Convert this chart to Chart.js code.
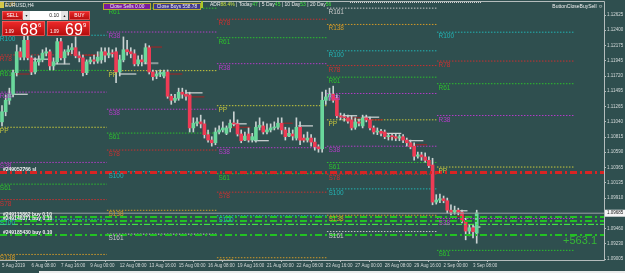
<!DOCTYPE html>
<html>
<head>
<meta charset="utf-8">
<script src="https://cdn.jsdelivr.net/npm/chart.js@4.4.1/dist/chart.umd.min.js"></script>
<style>
  html, body { margin: 0; padding: 0; background: #2f4f4f; }
  #wrap { position: relative; width: 625px; height: 273px; overflow: hidden; }
  #c { position: absolute; left: 0; top: 0; }
</style>
</head>
<body>
<div id="wrap"><canvas id="c" width="625" height="273"></canvas></div>
<script>
// EURUSD H4, 5 Aug 2019 .. 3 Sep 2019
const opens = [1.1104,1.1119,1.1136,1.1145,1.1177,1.1208,1.1200,1.1225,1.1199,1.1178,
  1.1193,1.1196,1.1206,1.1208,1.1187,1.1193,1.1223,1.1199,1.1208,1.1211,
  1.1214,1.1202,1.1199,1.1177,1.1193,1.1196,1.1194,1.1196,1.1208,1.1203,
  1.1206,1.1208,1.1178,1.1196,1.1211,1.1208,1.1205,1.1190,1.1196,1.1193,
  1.1214,1.1178,1.1172,1.1175,1.1172,1.1178,1.1142,1.1136,1.1139,1.1148,
  1.1145,1.1144,1.1095,1.1102,1.1104,1.1101,1.1085,1.1077,1.1073,1.1089,
  1.1092,1.1087,1.1095,1.1102,1.1101,1.1086,1.1077,1.1086,1.1077,1.1077,
  1.1096,1.1098,1.1089,1.1092,1.1095,1.1096,1.1102,1.1092,1.1083,1.1086,
  1.1080,1.1096,1.1080,1.1077,1.1080,1.1074,1.1067,1.1064,1.1136,1.1141,
  1.1145,1.1139,1.1113,1.1111,1.1110,1.1107,1.1096,1.1104,1.1098,1.1110,
  1.1107,1.1095,1.1089,1.1090,1.1089,1.1082,1.1083,1.1082,1.1080,1.1082,
  1.1077,1.1073,1.1068,1.1053,1.1055,1.1052,1.1047,1.1040,1.0985,1.0988,
  1.0990,1.0987,1.0973,1.0970,1.0973,1.0970,1.0957,1.0942,1.0947,1.0939];
const highs = [1.1128,1.1144,1.1154,1.1181,1.1218,1.1214,1.1233,1.1231,1.1202,1.1199,
  1.1202,1.1211,1.1214,1.1211,1.1199,1.1228,1.1228,1.1211,1.1217,1.1220,
  1.1230,1.1208,1.1203,1.1196,1.1200,1.1203,1.1208,1.1214,1.1214,1.1214,
  1.1211,1.1214,1.1203,1.1230,1.1225,1.1214,1.1211,1.1202,1.1203,1.1220,
  1.1217,1.1181,1.1180,1.1181,1.1181,1.1181,1.1145,1.1145,1.1154,1.1154,
  1.1151,1.1148,1.1110,1.1110,1.1114,1.1107,1.1092,1.1082,1.1095,1.1098,
  1.1104,1.1098,1.1107,1.1119,1.1107,1.1092,1.1089,1.1095,1.1087,1.1104,
  1.1110,1.1104,1.1101,1.1101,1.1104,1.1110,1.1110,1.1096,1.1095,1.1092,
  1.1110,1.1104,1.1085,1.1089,1.1085,1.1080,1.1070,1.1148,1.1151,1.1154,
  1.1157,1.1144,1.1117,1.1116,1.1114,1.1113,1.1110,1.1108,1.1114,1.1114,
  1.1111,1.1098,1.1095,1.1093,1.1092,1.1087,1.1086,1.1086,1.1085,1.1085,
  1.1080,1.1077,1.1073,1.1059,1.1059,1.1058,1.1052,1.1050,1.0996,1.0997,
  1.0994,1.0991,1.0981,1.0979,1.0976,1.0973,1.0961,1.0952,1.0951,1.0973];
const lows = [1.1098,1.1113,1.1130,1.1141,1.1172,1.1196,1.1196,1.1196,1.1174,1.1175,
  1.1188,1.1193,1.1202,1.1181,1.1181,1.1190,1.1196,1.1190,1.1203,1.1205,
  1.1199,1.1193,1.1172,1.1174,1.1190,1.1190,1.1191,1.1191,1.1193,1.1199,
  1.1200,1.1162,1.1172,1.1193,1.1203,1.1199,1.1187,1.1187,1.1187,1.1190,
  1.1175,1.1166,1.1168,1.1171,1.1169,1.1139,1.1130,1.1133,1.1136,1.1139,
  1.1136,1.1089,1.1089,1.1098,1.1095,1.1080,1.1074,1.1068,1.1070,1.1086,
  1.1089,1.1085,1.1089,1.1098,1.1083,1.1073,1.1076,1.1074,1.1074,1.1074,
  1.1092,1.1086,1.1086,1.1089,1.1092,1.1093,1.1086,1.1077,1.1082,1.1077,
  1.1077,1.1070,1.1074,1.1074,1.1068,1.1062,1.1059,1.1059,1.1130,1.1136,
  1.1133,1.1110,1.1107,1.1105,1.1102,1.1092,1.1093,1.1098,1.1095,1.1104,
  1.1092,1.1086,1.1085,1.1083,1.1079,1.1077,1.1077,1.1076,1.1076,1.1073,
  1.1068,1.1064,1.1047,1.1050,1.1047,1.1044,1.1036,1.0981,1.0982,1.0984,
  1.0984,1.0969,1.0966,1.0967,1.0966,1.0954,1.0929,1.0935,1.0932,1.0924];
const closes = [1.1119,1.1136,1.1145,1.1177,1.1208,1.1200,1.1225,1.1199,1.1178,1.1193,
  1.1196,1.1206,1.1208,1.1187,1.1193,1.1223,1.1199,1.1208,1.1211,1.1214,
  1.1202,1.1199,1.1177,1.1193,1.1196,1.1194,1.1200,1.1208,1.1203,1.1206,
  1.1205,1.1178,1.1196,1.1211,1.1208,1.1205,1.1190,1.1196,1.1193,1.1214,
  1.1178,1.1171,1.1175,1.1177,1.1178,1.1142,1.1136,1.1139,1.1148,1.1145,
  1.1142,1.1095,1.1102,1.1104,1.1101,1.1085,1.1077,1.1073,1.1089,1.1092,
  1.1095,1.1095,1.1102,1.1101,1.1086,1.1076,1.1083,1.1077,1.1082,1.1096,
  1.1099,1.1089,1.1092,1.1095,1.1096,1.1102,1.1092,1.1082,1.1087,1.1083,
  1.1096,1.1077,1.1077,1.1080,1.1074,1.1067,1.1064,1.1136,1.1141,1.1145,
  1.1136,1.1113,1.1111,1.1110,1.1105,1.1095,1.1104,1.1102,1.1110,1.1107,
  1.1095,1.1089,1.1090,1.1087,1.1082,1.1083,1.1082,1.1080,1.1082,1.1077,
  1.1073,1.1067,1.1053,1.1055,1.1052,1.1047,1.1039,1.0985,1.0988,1.0990,
  1.0987,1.0973,1.0970,1.0973,1.0970,1.0957,1.0942,1.0947,1.0941,1.0969];

// time axis: bar index of each label
const xTickBars = [0, 8, 16, 24, 32, 40, 48, 56, 64, 72, 80, 88, 96, 104, 112, 120, 128];
const xTickLabels = ["5 Aug 2019", "6 Aug 08:00", "7 Aug 16:00", "9 Aug 00:00", "12 Aug 08:00",
  "13 Aug 16:00", "15 Aug 00:00", "16 Aug 08:00", "19 Aug 16:00", "21 Aug 00:00", "22 Aug 08:00",
  "23 Aug 16:00", "27 Aug 00:00", "28 Aug 08:00", "29 Aug 16:00", "2 Sep 00:00", "3 Sep 08:00"];
const yTicks = [1.12625, 1.12400, 1.12175, 1.11945, 1.11720, 1.11495, 1.11265, 1.11040, 1.10815,
  1.10590, 1.10365, 1.10135, 1.09910, 1.09460, 1.09230, 1.09005];

// weekly fibonacci pivots
const levelNames = ["R161", "R138", "R100", "R78", "R61", "R38", "PP", "S38", "S61", "S78", "S100", "S138", "S161"];
const levelRatios = [1.618, 1.382, 1, 0.786, 0.618, 0.382, 0, -0.382, -0.618, -0.786, -1, -1.382, -1.618];
const weekStart = [-1, 28.5, 58.4, 88.3, 118.2];
const weekEnd = [28.5, 58.4, 88.3, 118.2, 155.7];
const weekPivot = [1.1096, 1.1180, 1.1128, 1.1107, 1.1037];
const weekRange = [0.01365, 0.01499, 0.01632, 0.01024, 0.0200];

// short daily marks [fromBar, toBar, price]
const whiteSegs = [[3,7,1.1145],[8,12.5,1.1197],[32,36.5,1.1175],[50,54.5,1.1147],[62.5,66.5,1.1101],
  [68.5,72.5,1.1076],[80.5,84.5,1.1098],[92.5,96.5,1.1113],[98,102.5,1.1111],[104.5,108.5,1.1087],
  [110.5,114.5,1.1076],[122.5,126.5,1.0972],[128,130,1.0948]];
const redSegs = [[3.5,7.5,1.1175],[15.5,19.5,1.1206],[22,26.5,1.1203],[39,43.5,1.1215],[44.5,49,1.1175],
  [51,55,1.1141],[62,67.5,1.1096],[76.5,79,1.1102],[81,84.5,1.1077],[94,98,1.1110],[99,103.5,1.1107],
  [104.5,109,1.1080],[111.5,115.5,1.1070],[123.5,127,1.0964]];
const graySegs = [[14,18.5,1.1190],[38.5,42.5,1.1191]];

// open orders
const orderNames = ["#249052766 sl", "#249115862 buy 0.10", "#249140371 buy 0.10", "#249185430 buy 0.10"];
const orderPrices = [1.1029, 1.0963, 1.0957, 1.0936];
const breakEven = 1.0952;
const bid = 1.09685;
const profitText = "+563.1";

const xMin = -0.543, xMax = 163.59;
const yMin = 1.08991, yMax = 1.12818;

const FONT = '"Liberation Sans", Arial, sans-serif';
const levelColors = ["#c8c8c8", "#d49a28", "#22b4b4", "#cc3030", "#2cc02c", "#b43cc8", "#c8c83c",
  "#b43cc8", "#2cc02c", "#cc3030", "#22b4b4", "#d49a28", "#c8c8c8"];

let datasets = [];

weekPivot.forEach((pp, w) => {
  levelRatios.forEach((r, k) => {
    const v = pp + r * weekRange[w];
    datasets.push({
      type: "line", order: 10,
      data: [{x: weekStart[w], y: v}, {x: weekEnd[w], y: v}],
      borderColor: levelColors[k], borderWidth: 1, borderDash: [1.5, 1.5],
      pointRadius: 0
    });
  });
});

function segs(list, color, width) {
  list.forEach(s => datasets.push({
    type: "line", order: 5,
    data: [{x: s[0], y: s[2]}, {x: s[1], y: s[2]}],
    borderColor: color, borderWidth: width, pointRadius: 0
  }));
}
segs(graySegs, "#8a9a9a", 2);
segs(redSegs, "#a82222", 1);
segs(whiteSegs, "#f4f4f4", 1);

datasets.push({
  type: "bar", order: 3, grouped: false, barThickness: 1,
  data: highs.map((h, i) => ({x: i, y: [lows[i], h]})),
  backgroundColor: "#c9d2d2"
});
datasets.push({
  type: "bar", order: 2, grouped: false, barThickness: 3, minBarLength: 1,
  data: opens.map((o, i) => ({x: i, y: [o, closes[i]]})),
  backgroundColor: opens.map((o, i) => closes[i] < o ? "#ee3b55" : "#6ad89c")
});

datasets.push({
  type: "line", order: 1,
  data: [{x: xMin, y: bid}, {x: xMax, y: bid}],
  borderColor: "#9aa4a4", borderWidth: 1, pointRadius: 0
});
orderPrices.forEach((p, i) => {
  const sl = i === 0;
  datasets.push({
    type: "line", order: 0,
    data: [{x: xMin, y: p}, {x: xMax, y: p}],
    borderColor: sl ? "#d82424" : "#22c222", borderWidth: sl ? 3 : 2,
    borderDash: [7, 3, 2, 3], pointRadius: 0
  });
});
datasets.push({
  type: "line", order: 0,
  data: [{x: xMin, y: breakEven}, {x: xMax, y: breakEven}],
  borderColor: "#44ff44", borderWidth: 1, borderDash: [6, 2, 2, 2], pointRadius: 0
});

function redBox(ctx, x, y, w, h) {
  const g = ctx.createLinearGradient(0, y, 0, y + h);
  g.addColorStop(0, "#f02a2a");
  g.addColorStop(1, "#b20c0c");
  ctx.fillStyle = g;
  ctx.fillRect(x, y, w, h);
  ctx.strokeStyle = "#f27a7a";
  ctx.lineWidth = 0.6;
  ctx.strokeRect(x + 0.5, y + 0.5, w - 1, h - 1);
}

const overlay = {
  id: "overlay",
  afterDatasetsDraw(chart) {
    const {ctx, chartArea: a, scales: {x, y}} = chart;
    ctx.save();
    ctx.beginPath();
    ctx.rect(a.left, a.top, a.right - a.left, a.bottom - a.top);
    ctx.clip();
    // pivot names
    ctx.font = "6.5px " + FONT;
    ctx.textBaseline = "top";
    ctx.textAlign = "left";
    weekPivot.forEach((pp, w) => {
      levelNames.forEach((name, k) => {
        const py = y.getPixelForValue(pp + levelRatios[k] * weekRange[w]);
        ctx.fillStyle = levelColors[k];
        ctx.fillText(name, x.getPixelForValue(weekStart[w]) + 1.5, py + 1);
      });
    });
    // order names
    ctx.font = "bold 5px " + FONT;
    ctx.textBaseline = "middle";
    ctx.fillStyle = "#f4f4f4";
    orderNames.forEach((n, i) => {
      ctx.fillText(n, 3, y.getPixelForValue(orderPrices[i]) - 2.5);
    });
    // floating profit
    ctx.font = "11px " + FONT;
    ctx.textAlign = "right";
    ctx.fillStyle = "#36b836";
    ctx.fillText(profitText, 597, 241);
    ctx.restore();

    // frame
    ctx.save();
    ctx.strokeStyle = "#b4bcbc";
    ctx.lineWidth = 1;
    ctx.beginPath();
    ctx.moveTo(0, a.top - 0.5); ctx.lineTo(a.right + 0.5, a.top - 0.5);
    ctx.lineTo(a.right + 0.5, a.bottom + 0.5); ctx.lineTo(0, a.bottom + 0.5);
    ctx.stroke();
    // bid box
    const by = y.getPixelForValue(bid);
    ctx.fillStyle = "#f4f4f4";
    ctx.fillRect(a.right + 1, by - 3.5, 20, 7);
    ctx.fillStyle = "#202020";
    ctx.font = "4.5px " + FONT;
    ctx.textBaseline = "middle";
    ctx.fillText(bid.toFixed(5), a.right + 3, by);
    ctx.restore();
  },
  afterDraw(chart) {
    const ctx = chart.ctx;
    ctx.save();
    ctx.textBaseline = "middle";
    // symbol
    ctx.fillStyle = "#d4c848";
    ctx.fillRect(0, 2, 4, 6);
    ctx.fillStyle = "#e8ecec";
    ctx.font = "5px " + FONT;
    ctx.fillText("EURUSD,H4", 5, 5.5);

    // trade panel
    redBox(ctx, 2, 11, 21, 9);
    redBox(ctx, 69, 11, 21, 9);
    ctx.fillStyle = "#e4e4e4";
    ctx.fillRect(23, 11, 7, 9);
    ctx.fillRect(61, 11, 7, 9);
    ctx.fillStyle = "#ffffff";
    ctx.fillRect(30, 11, 31, 9);
    ctx.fillStyle = "#ffffff";
    ctx.font = "5px " + FONT;
    ctx.textAlign = "center";
    ctx.fillText("SELL", 12.5, 15.7);
    ctx.fillText("BUY", 79.5, 15.7);
    ctx.fillStyle = "#222222";
    ctx.font = "3.5px " + FONT;
    ctx.fillText("\u25BC", 26.5, 15.7);
    ctx.fillText("\u25B2", 64.5, 15.7);
    ctx.font = "5px " + FONT;
    ctx.textAlign = "right";
    ctx.fillText("0.10", 59, 15.7);

    redBox(ctx, 2, 21, 43, 15);
    redBox(ctx, 47, 21, 43, 15);
    ctx.textAlign = "left";
    ctx.textBaseline = "alphabetic";
    ctx.fillStyle = "#ffffff";
    ctx.font = "4.5px " + FONT;
    ctx.fillText("1.09", 5, 33);
    ctx.fillText("1.09", 50, 33);
    ctx.font = "16px " + FONT;
    ctx.fillText("68", 20, 34.5);
    ctx.fillText("69", 65, 34.5);
    ctx.font = "6px " + FONT;
    ctx.fillText("6", 38, 27);
    ctx.fillText("9", 83, 27);

    // close buttons
    ctx.textBaseline = "middle";
    ctx.textAlign = "center";
    ctx.lineWidth = 1;
    ctx.fillStyle = "#7a1c9c";
    ctx.fillRect(103, 3, 48, 7);
    ctx.strokeStyle = "#b4a830";
    ctx.strokeRect(103.5, 3.5, 47, 6);
    ctx.fillStyle = "#40388c";
    ctx.fillRect(153, 3, 48, 7);
    ctx.strokeRect(153.5, 3.5, 47, 6);
    ctx.fillStyle = "#f0f0f0";
    ctx.font = "4.8px " + FONT;
    ctx.fillText("Close Sells 0.00", 127, 6.7);
    ctx.fillText("Close Buys 558.78", 177, 6.7);

    // range info
    ctx.fillStyle = "#a8c828";
    ctx.fillRect(201, 1, 2, 7);
    const parts = [["ADR", "#e8e8e8"], ["88.4%", "#c8e040"], [" | Today", "#e8e8e8"], ["47", "#40e040"],
      [" | 5 Day", "#e8e8e8"], ["45", "#40e040"], [" | 10 Day", "#e8e8e8"], ["53", "#40e040"],
      [" | 20 Day", "#e8e8e8"], ["56", "#40e040"]];
    ctx.textAlign = "left";
    ctx.font = "5px " + FONT;
    let tx = 210;
    parts.forEach(p => {
      ctx.fillStyle = p[1];
      ctx.fillText(p[0], tx, 5);
      tx += ctx.measureText(p[0]).width;
    });
    ctx.strokeStyle = "#cfcfcf";
    ctx.setLineDash([1, 1]);
    ctx.beginPath();
    ctx.moveTo(350, 2.5); ctx.lineTo(482, 2.5);
    ctx.stroke();
    ctx.setLineDash([]);

    ctx.textAlign = "right";
    ctx.fillStyle = "#f0f0f0";
    ctx.fillText("ButtonCloseBuySell \u263A", 603, 6.5);

    // terminal tab strip
    ctx.fillStyle = "#ececec";
    ctx.fillRect(39, 271, 586, 2);
    ctx.restore();
  }
};

const chart = new Chart(document.getElementById("c"), {
  type: "bar",
  data: {datasets: datasets},
  options: {
    responsive: false,
    animation: false,
    devicePixelRatio: 1,
    layout: {padding: {top: 2, left: 0, right: 0, bottom: 0}},
    plugins: {legend: {display: false}, tooltip: {enabled: false}},
    scales: {
      x: {
        type: "linear", min: xMin, max: xMax, offset: false,
        border: {display: false},
        grid: {drawOnChartArea: false, drawTicks: true, tickLength: 2, color: "#b4bcbc"},
        ticks: {
          autoSkip: false, maxRotation: 0, minRotation: 0, align: "start", padding: 1,
          color: "#d4dada", font: {size: 4.5, family: FONT},
          callback: (v, i) => xTickLabels[i]
        },
        afterBuildTicks: s => { s.ticks = xTickBars.map(v => ({value: v})); },
        afterFit: s => { s.height = 13; s.paddingLeft = 0; s.paddingRight = 0; }
      },
      y: {
        type: "linear", position: "right", min: yMin, max: yMax,
        border: {display: false},
        grid: {drawOnChartArea: false, drawTicks: true, tickLength: 2, color: "#b4bcbc"},
        ticks: {
          padding: 1, crossAlign: "near",
          color: "#d4dada", font: {size: 4.5, family: FONT},
          callback: v => v.toFixed(5)
        },
        afterBuildTicks: s => { s.ticks = yTicks.map(v => ({value: v})); },
        afterFit: s => { s.width = 21; s.paddingTop = 0; s.paddingBottom = 0; }
      }
    }
  },
  plugins: [overlay]
});
</script>
</body>
</html>
